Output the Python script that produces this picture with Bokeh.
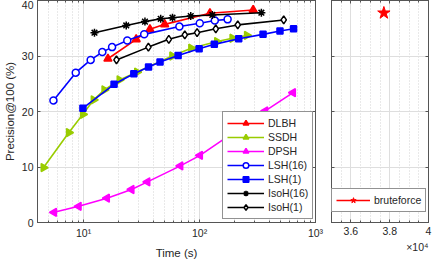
import math
from bokeh.plotting import figure
from bokeh.models import (FixedTicker, CustomJSTickFormatter, Legend, LegendItem,
                          LogAxis, LinearAxis, ColumnDataSource, Title)
from bokeh.layouts import row
from bokeh.embed import file_html
from bokeh.resources import INLINE

# ---------------- data ----------------
dlbh_time = [16.2, 28.4, 37.3, 50.0, 122.8, 290]
dlbh_prec = [29.5, 33.0, 34.8, 35.7, 37.7, 38.3]

ssdh_time = [4.51, 7.46, 9.86, 12.2, 15.1, 20.4, 28.9, 58.1, 84.6, 141.6, 192, 256]
ssdh_prec = [9.9, 16.2, 19.5, 22.1, 23.9, 25.7, 27.1, 30.0, 31.4, 32.6, 33.2, 33.7]

dpsh_time = [5.56, 9.07, 15.9, 25.9, 35.5, 68.3, 100.9, 369, 640]
dpsh_prec = [1.84, 2.92, 4.38, 5.95, 7.32, 10.2, 12.1, 20.1, 23.4]

lsh16_time = [5.49, 8.55, 11.5, 14.5, 17.6, 23.8, 33.3, 67.0, 100.4, 135.4, 174.6]
lsh16_prec = [22.0, 27.0, 29.3, 30.7, 31.6, 32.8, 33.9, 35.3, 35.9, 36.4, 36.6]

lsh1_time = [9.86, 18.3, 27.1, 36.3, 45.6, 65.3, 99.1, 134, 217.6, 352.9, 493.8, 647]
lsh1_prec = [20.6, 24.9, 26.8, 28.0, 28.9, 30.1, 31.3, 32.1, 33.1, 33.9, 34.5, 34.9]

isoh16_time = [12.4, 23.3, 33.8, 46.2, 58.4, 83.9, 128.9, 341.3]
isoh16_prec = [34.2, 35.5, 36.2, 36.7, 36.9, 37.2, 37.4, 37.8]

isoh1_time = [19.2, 36.2, 54.3, 74.6, 95.2, 138, 213.5, 532]
isoh1_prec = [29.3, 31.6, 33.0, 33.8, 34.2, 34.9, 35.6, 36.5]

brute_time = [37700]
brute_prec = [37.75]

x_major = [10, 100, 1000]
y_major = [0, 10, 20, 30, 40]
right_x_major = [36000, 38000, 40000]

FONT = "Liberation Sans"
AX = "#555555"
TXT = "#262626"
GRID = "#dedede"

# ---------------- left panel ----------------
p = figure(width=326, height=261, x_axis_type="log", x_range=(4, 1000), y_range=(0, 40),
           output_backend="svg", toolbar_location=None,
           min_border_left=33, min_border_right=11, min_border_top=0, min_border_bottom=32)
p.outline_line_color = AX
p.background_fill_color = "white"

x_minor = [m * d for d in (1, 10, 100) for m in range(2, 10) if 4 <= m * d <= 1000]
sup = CustomJSTickFormatter(code="""
const s = {0:'\u2070',1:'\u00b9',2:'\u00b2',3:'\u00b3'};
return '10' + s[Math.round(Math.log10(tick))];
""")

def style_axis(ax, labels=True):
    ax.axis_line_color = AX
    ax.major_tick_line_color = AX
    ax.minor_tick_line_color = AX
    ax.major_tick_in = 3
    ax.major_tick_out = 0
    ax.minor_tick_in = 2
    ax.minor_tick_out = 0
    ax.major_label_text_font = FONT
    ax.major_label_text_color = TXT
    if labels:
        ax.major_label_text_font_size = "10.5px"
        ax.major_label_standoff = 4
    else:
        ax.major_label_text_font_size = "1px"
        ax.major_label_text_alpha = 0
        ax.major_label_standoff = 0
    ax.axis_label_text_font = FONT
    ax.axis_label_text_font_size = "11.5px"
    ax.axis_label_text_font_style = "normal"
    ax.axis_label_text_color = TXT

p.xaxis.ticker = FixedTicker(ticks=x_major, minor_ticks=x_minor)
p.xaxis.formatter = sup
p.xaxis.axis_label = "Time (s)"
p.xaxis.axis_label_standoff = 5
style_axis(p.xaxis[0])
p.yaxis.ticker = FixedTicker(ticks=y_major, minor_ticks=[])
p.yaxis.axis_label = "Precision@100 (%)"
p.yaxis.axis_label_standoff = 3
style_axis(p.yaxis[0])

top = LogAxis(ticker=FixedTicker(ticks=x_major, minor_ticks=x_minor))
style_axis(top, labels=False)
p.add_layout(top, "above")
rgt = LinearAxis(ticker=FixedTicker(ticks=y_major, minor_ticks=[]))
style_axis(rgt, labels=False)
p.add_layout(rgt, "right")

p.xgrid.grid_line_color = GRID
p.xgrid.minor_grid_line_color = "#d2d2d2"
p.xgrid.minor_grid_line_dash = "1 2"
p.ygrid.grid_line_color = GRID

series = [
    ("DLBH", dlbh_time, dlbh_prec, "#ff0000", "triangle", 8, 0.0, "#ff0000"),
    ("SSDH", ssdh_time, ssdh_prec, "#99cc00", "triangle", 8, -math.pi / 2, "#99cc00"),
    ("DPSH", dpsh_time, dpsh_prec, "#ff00ff", "triangle", 8, math.pi / 2, "#ff00ff"),
    ("LSH(16)", lsh16_time, lsh16_prec, "#0000ff", "circle", 7, 0.0, "white"),
    ("LSH(1)", lsh1_time, lsh1_prec, "#0000ff", "square", 6, 0.0, "#0000ff"),
    ("IsoH(16)", isoh16_time, isoh16_prec, "#000000", "asterisk", 8, 0.0, "#000000"),
    ("IsoH(1)", isoh1_time, isoh1_prec, "#000000", "diamond", 8, 0.0, "white"),
]

items = []
for name, xs, ys, col, mk, sz, ang, fill in series:
    src = ColumnDataSource(dict(x=xs, y=ys, a=[ang] * len(xs)))
    ln = p.line("x", "y", source=src, line_color=col, line_width=1.6)
    sc = p.scatter("x", "y", source=src, marker=mk, size=sz, angle="a", angle_units="rad",
                   line_color=col, fill_color=fill, line_width=1.5)
    items.append(LegendItem(label=name, renderers=[ln, sc]))

leg = Legend(items=items, location=(185, 3), glyph_width=37, glyph_height=14,
             label_height=14, spacing=0, padding=4, margin=0, label_standoff=4,
             label_text_font=FONT, label_text_font_size="10.5px", label_text_color=TXT,
             border_line_color="#262626", border_line_width=1,
             background_fill_color="white", background_fill_alpha=1)
p.add_layout(leg)

# ---------------- right panel ----------------
r_minor = list(range(35000, 40001, 500))
q = figure(width=106, height=261, x_range=(35000, 40000), y_range=(0, 40),
           output_backend="svg", toolbar_location=None,
           min_border_left=5, min_border_right=4, min_border_top=0, min_border_bottom=32)
q.outline_line_color = AX
q.xaxis.ticker = FixedTicker(ticks=right_x_major, minor_ticks=r_minor)
q.xaxis.formatter = CustomJSTickFormatter(code="return String(Math.round(tick/1000)/10);")
style_axis(q.xaxis[0])
q.yaxis.ticker = FixedTicker(ticks=y_major, minor_ticks=[])
style_axis(q.yaxis[0], labels=False)
qtop = LinearAxis(ticker=FixedTicker(ticks=right_x_major, minor_ticks=r_minor))
style_axis(qtop, labels=False)
q.add_layout(qtop, "above")
qr = LinearAxis(ticker=FixedTicker(ticks=y_major, minor_ticks=[]))
style_axis(qr, labels=False)
q.add_layout(qr, "right")
q.xgrid.grid_line_color = GRID
q.xgrid.minor_grid_line_color = "#d2d2d2"
q.xgrid.minor_grid_line_dash = "1 2"
q.ygrid.grid_line_color = GRID

q.add_layout(Title(text="\u00d710\u2074", align="right", text_font=FONT,
                   text_font_size="10.5px", text_font_style="normal",
                   text_color=TXT, standoff=2), "below")

bl = q.line(brute_time, brute_prec, line_color="#ff0000", line_width=1.6)
bs = q.scatter(brute_time, brute_prec, marker="star", size=13, line_color="#ff0000",
               fill_color="#ff0000")
leg2 = Legend(items=[LegendItem(label="bruteforce", renderers=[bl, bs])], location=(0, 10),
              glyph_width=34, glyph_height=14, label_height=14, padding=4, margin=0,
              label_standoff=4, label_text_font=FONT, label_text_font_size="10.5px",
              label_text_color=TXT, border_line_color="#262626", border_line_width=1,
              background_fill_color="white", background_fill_alpha=1)
q.add_layout(leg2)

layout = row(p, q)
open("out.html", "w").write(file_html(layout, INLINE))
